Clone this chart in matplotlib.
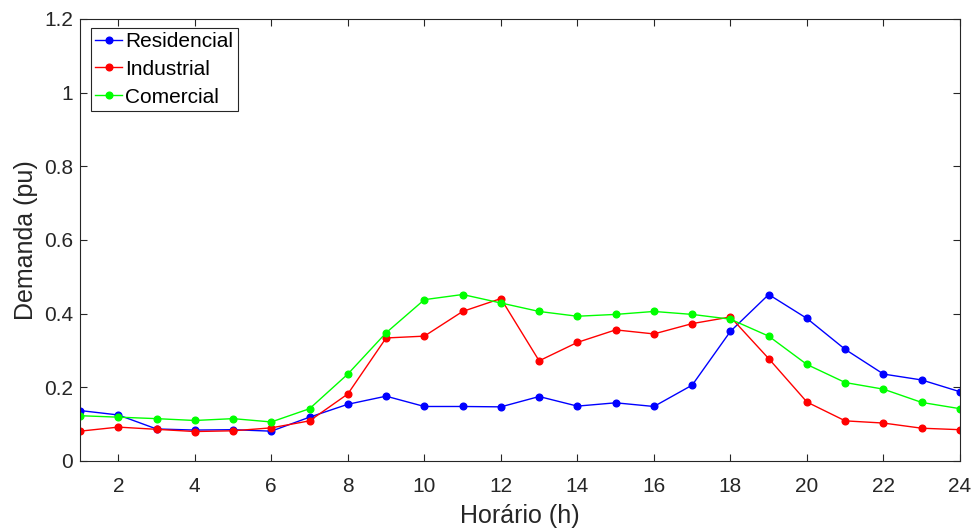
import numpy as np
import matplotlib.pyplot as plt

plt.rcParams['font.family'] = ['Liberation Sans', 'DejaVu Sans']

horas = np.arange(1, 25)
residencial = [0.137, 0.125, 0.087, 0.084, 0.085, 0.081, 0.119, 0.154, 0.176, 0.148, 0.148, 0.147,
               0.175, 0.149, 0.158, 0.148, 0.206, 0.352, 0.452, 0.387, 0.303, 0.236, 0.220, 0.188]
industrial = [0.081, 0.092, 0.086, 0.080, 0.082, 0.090, 0.109, 0.182, 0.334, 0.339, 0.406, 0.441,
              0.272, 0.322, 0.356, 0.345, 0.373, 0.391, 0.278, 0.160, 0.109, 0.103, 0.089, 0.085]
comercial = [0.123, 0.119, 0.115, 0.110, 0.115, 0.106, 0.142, 0.236, 0.348, 0.438, 0.452, 0.429,
             0.406, 0.393, 0.398, 0.406, 0.398, 0.385, 0.339, 0.262, 0.213, 0.195, 0.159, 0.142]

fig = plt.figure(figsize=(9.75, 5.31), dpi=100)
ax = fig.add_axes([80/975, 1-461/531, 880/975, 442/531])

ax.plot(horas, residencial, '-o', color='#0000ff', lw=1, ms=4.8, label='Residencial')
ax.plot(horas, industrial, '-o', color='#ff0000', lw=1, ms=4.8, label='Industrial')
ax.plot(horas, comercial, '-o', color='#00ff00', lw=1, ms=4.8, label='Comercial')

ax.set_xlim(1, 24)
ax.set_ylim(0, 1.2)
ax.set_xticks(np.arange(2, 25, 2))
ax.set_yticks([0, 0.2, 0.4, 0.6, 0.8, 1, 1.2])
ax.set_yticklabels(['0', '0.2', '0.4', '0.6', '0.8', '1', '1.2'])
ax.tick_params(axis='both', direction='in', top=True, right=True, length=5,
               labelsize=15, colors='#262626', width=0.8)
ax.tick_params(axis='y', pad=5)
ax.tick_params(axis='x', pad=11.5)
for s in ax.spines.values():
    s.set_color('#262626')
    s.set_linewidth(0.8)
ax.set_xlabel('Horário (h)', fontsize=18, color='#262626')
ax.set_ylabel('Demanda (pu)', fontsize=18, color='#262626')
ax.xaxis.set_label_coords(0.5, -0.097)
ax.yaxis.set_label_coords(-0.048, 0.5)

leg = ax.legend(loc='upper left', bbox_to_anchor=(0.0125, 0.98), fontsize=15,
                handlelength=1.3, handletextpad=0.15, borderpad=0.2, labelspacing=0.42,
                fancybox=False, framealpha=1, borderaxespad=0)
leg.get_frame().set_edgecolor('#262626')
leg.get_frame().set_linewidth(0.8)
for h in leg.legend_handles:
    h.set_markersize(4.8)

plt.savefig('out.png', dpi=100)
